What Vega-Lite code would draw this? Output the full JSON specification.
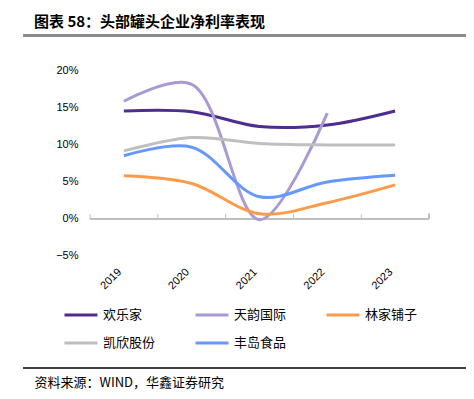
{
  "$schema": "https://vega.github.io/schema/vega-lite/v6.json",
  "autosize": {"type": "none"},
  "width": 443,
  "height": 333,
  "padding": {"left": 23, "top": 35, "right": 8, "bottom": 31},
  "background": "#ffffff",
  "config": {"view": {"stroke": null}},
  "title": {
    "text": "图表 58：头部罐头企业净利率表现",
    "anchor": "start",
    "frame": "group",
    "dx": 11,
    "offset": 5,
    "font": "Noto Sans CJK SC",
    "fontSize": 15,
    "fontWeight": "bold",
    "color": "#000000"
  },
  "data": {
    "values": [
      {"company": "欢乐家", "year": "2019", "value": 0.146},
      {"company": "欢乐家", "year": "2020", "value": 0.145},
      {"company": "欢乐家", "year": "2021", "value": 0.125},
      {"company": "欢乐家", "year": "2022", "value": 0.127},
      {"company": "欢乐家", "year": "2023", "value": 0.146},
      {"company": "天韵国际", "year": "2019", "value": 0.159},
      {"company": "天韵国际", "year": "2020", "value": 0.182},
      {"company": "天韵国际", "year": "2021", "value": -0.001},
      {"company": "天韵国际", "year": "2022", "value": 0.143},
      {"company": "林家铺子", "year": "2019", "value": 0.0585},
      {"company": "林家铺子", "year": "2020", "value": 0.048},
      {"company": "林家铺子", "year": "2021", "value": 0.007},
      {"company": "林家铺子", "year": "2022", "value": 0.022},
      {"company": "林家铺子", "year": "2023", "value": 0.046},
      {"company": "凯欣股份", "year": "2019", "value": 0.092},
      {"company": "凯欣股份", "year": "2020", "value": 0.110},
      {"company": "凯欣股份", "year": "2021", "value": 0.102},
      {"company": "凯欣股份", "year": "2022", "value": 0.100},
      {"company": "凯欣股份", "year": "2023", "value": 0.100},
      {"company": "丰岛食品", "year": "2019", "value": 0.0855},
      {"company": "丰岛食品", "year": "2020", "value": 0.097},
      {"company": "丰岛食品", "year": "2021", "value": 0.030},
      {"company": "丰岛食品", "year": "2022", "value": 0.050},
      {"company": "丰岛食品", "year": "2023", "value": 0.059}
    ]
  },
  "layer": [
    {
      "mark": {"type": "rule", "strokeWidth": 2, "color": "#8c8c8c", "clip": false},
      "encoding": {"y": {"datum": 0.2475}}
    },
    {
      "mark": {"type": "rule", "strokeWidth": 1, "color": "#404040"},
      "encoding": {"y": {"datum": -0.2014}}
    },
    {
      "mark": {"type": "rule", "strokeWidth": 1, "color": "#bfbfbf"},
      "encoding": {
        "x": {"datum": "2019", "bandPosition": 0},
        "x2": {"datum": "2023", "bandPosition": 1},
        "y": {"datum": 0}
      }
    },
    {
      "data": {"values": [{"year": "2019"}, {"year": "2020"}, {"year": "2021"}, {"year": "2022"}, {"year": "2023"}]},
      "mark": {"type": "rule", "strokeWidth": 1, "color": "#bfbfbf"},
      "encoding": {
        "x": {"field": "year", "type": "ordinal", "bandPosition": 0},
        "y": {"datum": 0},
        "y2": {"datum": 0.0068}
      }
    },
    {
      "mark": {"type": "rule", "strokeWidth": 1, "color": "#bfbfbf"},
      "encoding": {
        "x": {"datum": "2023", "bandPosition": 1},
        "y": {"datum": 0},
        "y2": {"datum": 0.0068}
      }
    },
    {
      "mark": {"type": "line", "interpolate": "catmull-rom", "strokeWidth": 3},
      "encoding": {
        "x": {
          "field": "year",
          "type": "ordinal",
          "scale": {"type": "band", "range": [67, 406], "paddingInner": 0, "paddingOuter": 0},
          "axis": {
            "orient": "bottom",
            "offset": -149,
            "domain": false,
            "ticks": false,
            "grid": false,
            "labelAngle": -45,
            "labelPadding": 51,
            "labelFont": "Liberation Sans",
            "labelFontSize": 11,
            "labelColor": "#000000",
            "labelOffset": -4,
            "title": "资料来源：WIND，华鑫证券研究",
            "titleAnchor": "start",
            "titleAlign": "left",
            "titleBaseline": "middle",
            "titleX": 11,
            "titleY": 163,
            "titleFont": "Noto Sans CJK SC",
            "titleFontSize": 13,
            "titleFontWeight": "normal",
            "titleColor": "#000000"
          }
        },
        "y": {
          "field": "value",
          "type": "quantitative",
          "scale": {"domain": [-0.2014, 0.2486], "nice": false, "zero": false},
          "axis": {
            "values": [-0.05, 0, 0.05, 0.1, 0.15, 0.2],
            "format": ".0%",
            "title": null,
            "domain": false,
            "ticks": false,
            "grid": false,
            "labelPadding": -55,
            "labelFont": "Liberation Sans",
            "labelFontSize": 11,
            "labelColor": "#000000"
          }
        },
        "color": {
          "field": "company",
          "type": "nominal",
          "scale": {
            "domain": ["欢乐家", "天韵国际", "林家铺子", "凯欣股份", "丰岛食品"],
            "range": ["#4e2d8f", "#a99ad5", "#ff9a4a", "#bfbfbf", "#6699ff"]
          },
          "legend": {
            "title": null,
            "orient": "none",
            "legendX": 40,
            "legendY": 262,
            "direction": "horizontal",
            "columns": 3,
            "columnPadding": 33,
            "rowPadding": 3,
            "symbolType": "stroke",
            "symbolSize": 1089,
            "symbolStrokeWidth": 3,
            "labelOffset": 4,
            "labelFont": "Noto Sans CJK SC",
            "labelFontSize": 13,
            "labelColor": "#000000"
          }
        }
      }
    }
  ]
}
